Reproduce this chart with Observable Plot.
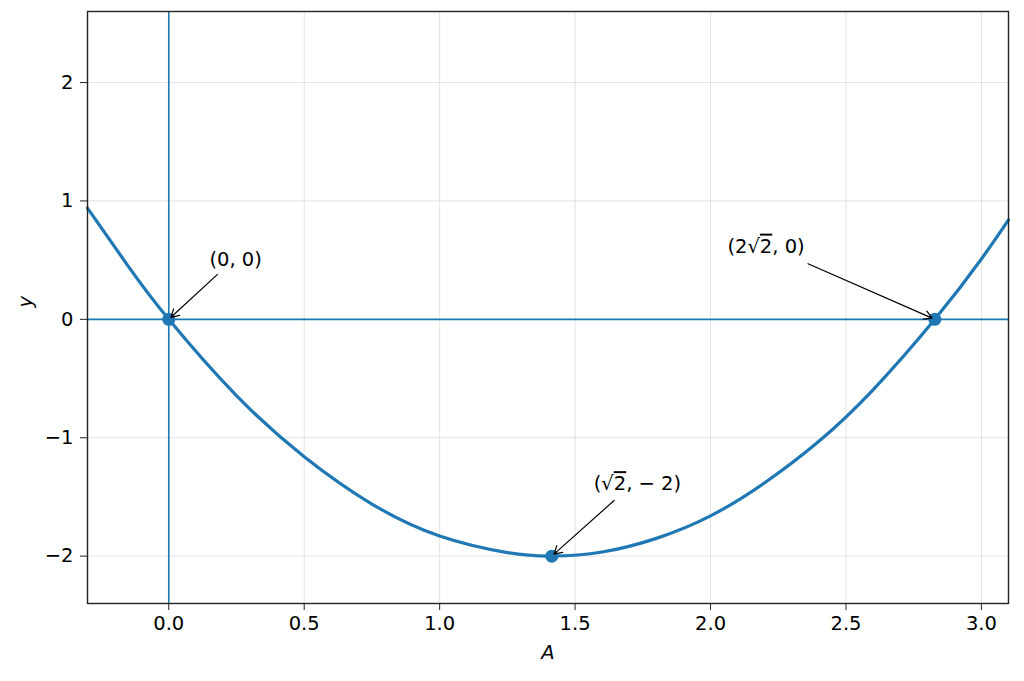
<!DOCTYPE html>
<html><head><meta charset="utf-8">
<script src="https://cdn.jsdelivr.net/npm/d3@7"></script>
<script src="https://cdn.jsdelivr.net/npm/@observablehq/plot@0.6"></script>
<style>
body{margin:0;background:#fff;overflow:hidden}
#chart svg, #chart svg text {font-family: "DejaVu Sans", sans-serif !important;}
</style>
</head><body><div id="chart"></div>
<script>
// curve samples
const curveA = [-0.3, -0.15, 0, 0.25, 0.5, 0.75, 1.0, 1.25, 1.414, 1.6, 1.8, 2.0, 2.2, 2.4, 2.6, 2.828, 3.0, 3.1];
const curveY = [0.94, 0.45, 0, -0.645, -1.16, -1.56, -1.83, -1.97, -2.0, -1.965, -1.85, -1.66, -1.38, -1.03, -0.595, 0, 0.51, 0.84];
// marked points
const pointA = [0, 1.414, 2.828];
const pointY = [0, -2, 0];
// annotations
const labels = ["(0, 0)", "(\u221A2, \u2212 2)", "(2\u221A2, 0)"];
const labelX = [0.247, 1.73, 2.205];
const labelY = [0.50, -1.39, 0.616];
const arrowX = [0.18, 1.644, 2.36];
const arrowY = [0.38, -1.53, 0.47];
// ticks
const xTicks = [0, 0.5, 1.0, 1.5, 2.0, 2.5, 3.0];
const yTicks = [-2, -1, 0, 1, 2];

const blue = "#1f77b4";
const fs = 19.5;
const curve = curveA.map((a, i) => ({a, y: curveY[i]}));
const pts = pointA.map((a, i) => ({a, y: pointY[i]}));
const ann = labels.map((t, i) => ({t, x: labelX[i], y: labelY[i], x1: arrowX[i], y1: arrowY[i], x2: pointA[i], y2: pointY[i]}));

const chart = Plot.plot({
  width: 1024, height: 681,
  marginLeft: 87, marginRight: 16, marginTop: 11, marginBottom: 78,
  style: {background: "#fff", color: "#000"},
  x: {domain: [-0.3, 3.1]},
  y: {domain: [-2.4, 2.6]},
  marks: [
    Plot.gridX(xTicks, {stroke: "#b0b0b0", strokeOpacity: 0.35, strokeWidth: 1}),
    Plot.gridY(yTicks, {stroke: "#b0b0b0", strokeOpacity: 0.35, strokeWidth: 1}),
    Plot.ruleY([0], {stroke: blue, strokeWidth: 1.6}),
    Plot.ruleX([0], {stroke: blue, strokeWidth: 1.6}),
    Plot.line(curve, {x: "a", y: "y", stroke: blue, strokeWidth: 3.2, curve: "natural"}),
    Plot.dot(pts, {x: "a", y: "y", r: 6.5, fill: blue}),
    Plot.arrow(ann, {x1: "x1", y1: "y1", x2: "x2", y2: "y2", stroke: "black", strokeWidth: 1.2, headLength: 11, insetEnd: 3}),
    Plot.text(ann, {x: "x", y: "y", text: "t", fontSize: fs, textAnchor: "middle", lineAnchor: "middle", fill: "black"}),
    Plot.frame({stroke: "#222", strokeWidth: 1.4}),
    Plot.axisX(xTicks, {tickSize: 7, tickPadding: 6, tickFormat: d3.format(".1f"), label: null, fontSize: fs, stroke: "#222"}),
    Plot.axisY(yTicks, {tickSize: 7, tickPadding: 7, tickFormat: d3.format("d"), label: null, fontSize: fs, stroke: "#222"}),
    Plot.text(["A"], {frameAnchor: "bottom", dy: 55, fontStyle: "italic", fontSize: fs, fill: "black"}),
    Plot.text(["y"], {frameAnchor: "left", dx: -62, rotate: -90, fontStyle: "italic", fontSize: fs, fill: "black"})
  ]
});
// overline the radicand of the square roots
d3.select(chart).selectAll("text").each(function() {
  const el = d3.select(this);
  const t = this.textContent;
  const i = t.indexOf("\u221A");
  if (i >= 0 && !el.selectAll("tspan").size()) {
    el.text(null);
    el.append("tspan").text(t.slice(0, i + 1));
    el.append("tspan").attr("text-decoration", "overline").style("text-decoration", "overline").text(t.slice(i + 1, i + 2));
    el.append("tspan").text(t.slice(i + 2));
  }
});
document.getElementById("chart").appendChild(chart);
</script>
</body></html>
